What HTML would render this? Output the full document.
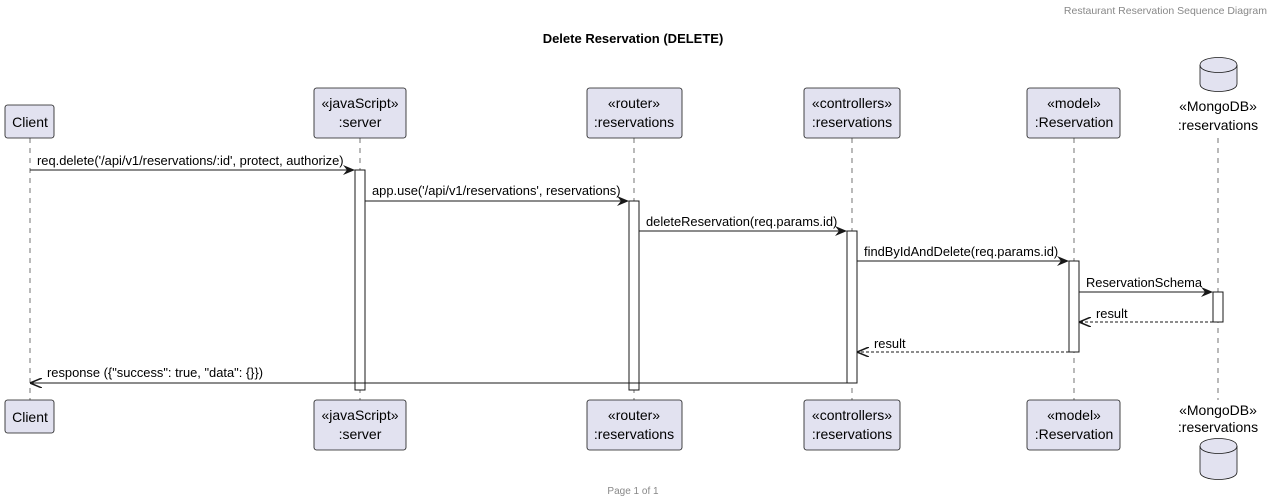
<!DOCTYPE html>
<html><head><meta charset="utf-8"><style>
html,body{margin:0;padding:0;background:#fff;}
svg{display:block;font-family:"Liberation Sans",sans-serif;}
</style></head><body>
<svg width="1273" height="502" viewBox="0 0 1273 502" xmlns="http://www.w3.org/2000/svg">
<defs>
<marker id="ah" viewBox="0 0 12 10" refX="11" refY="5" markerWidth="12" markerHeight="10" markerUnits="userSpaceOnUse" orient="auto">
<path d="M0,0 L12,5 L0,10 L4,5 Z" fill="#181818"/>
</marker>
<marker id="oh" viewBox="0 0 12 10" refX="11" refY="5" markerWidth="12" markerHeight="10" markerUnits="userSpaceOnUse" orient="auto">
<path d="M0,0 L12,5 L0,10" fill="none" stroke="#181818" stroke-width="1.5"/>
</marker>
</defs>
<text x="1267" y="14" font-size="10.5" fill="#888" text-anchor="end">Restaurant Reservation Sequence Diagram</text>
<text x="633" y="43" font-size="13" font-weight="bold" text-anchor="middle" fill="#000">Delete Reservation (DELETE)</text>
<text x="633" y="494" font-size="10" fill="#888" text-anchor="middle">Page 1 of 1</text>

<g stroke="#181818" stroke-width="0.6" stroke-dasharray="5,5">
<line x1="30" y1="138" x2="30" y2="400"/>
<line x1="360" y1="138" x2="360" y2="400"/>
<line x1="634" y1="138" x2="634" y2="400"/>
<line x1="852" y1="138" x2="852" y2="400"/>
<line x1="1074" y1="138" x2="1074" y2="400"/>
<line x1="1218" y1="138" x2="1218" y2="400"/>
</g>

<g fill="#E2E2F0" stroke="#181818" stroke-width="0.8">
<rect x="5" y="105" width="49" height="33" rx="2.5"/>
<rect x="314" y="88" width="92" height="50" rx="2.5"/>
<rect x="587" y="88" width="95" height="50" rx="2.5"/>
<rect x="804" y="88" width="96" height="50" rx="2.5"/>
<rect x="1027" y="88" width="93" height="50" rx="2.5"/>
<rect x="5" y="400" width="49" height="33" rx="2.5"/>
<rect x="314" y="400" width="92" height="50" rx="2.5"/>
<rect x="587" y="400" width="95" height="50" rx="2.5"/>
<rect x="804" y="400" width="96" height="50" rx="2.5"/>
<rect x="1027" y="400" width="93" height="50" rx="2.5"/>
<path d="M1200,65 C1200,55 1237,55 1237,65 L1237,84 C1237,94 1200,94 1200,84 Z"/>
<path d="M1200,65 C1200,75 1237,75 1237,65" fill="none"/>
<path d="M1200,446 C1200,436 1237,436 1237,446 L1237,472 C1237,482 1200,482 1200,472 Z"/>
<path d="M1200,446 C1200,456 1237,456 1237,446" fill="none"/>
</g>

<g font-size="14" fill="#000" text-anchor="middle">
<text x="30" y="127">Client</text>
<text x="360" y="108">«javaScript»</text><text x="360" y="127">:server</text>
<text x="634" y="108">«router»</text><text x="634" y="127">:reservations</text>
<text x="852" y="108">«controllers»</text><text x="852" y="127">:reservations</text>
<text x="1074" y="108">«model»</text><text x="1074" y="127">:Reservation</text>
<text x="1218" y="111">«MongoDB»</text><text x="1218" y="130">:reservations</text>
<text x="30" y="422">Client</text>
<text x="360" y="420">«javaScript»</text><text x="360" y="439">:server</text>
<text x="634" y="420">«router»</text><text x="634" y="439">:reservations</text>
<text x="852" y="420">«controllers»</text><text x="852" y="439">:reservations</text>
<text x="1074" y="420">«model»</text><text x="1074" y="439">:Reservation</text>
<text x="1218" y="415">«MongoDB»</text><text x="1218" y="432">:reservations</text>
</g>

<g fill="#fff" stroke="#181818" stroke-width="1">
<rect x="355" y="170" width="10" height="220"/>
<rect x="629" y="201" width="10" height="189"/>
<rect x="847" y="231" width="10" height="152"/>
<rect x="1069" y="261" width="10" height="91"/>
<rect x="1213" y="292" width="10" height="30"/>
</g>

<g stroke="#181818" stroke-width="1" fill="none">
<line x1="30" y1="170" x2="354" y2="170" marker-end="url(#ah)"/>
<line x1="365" y1="201" x2="628" y2="201" marker-end="url(#ah)"/>
<line x1="639" y1="231" x2="846" y2="231" marker-end="url(#ah)"/>
<line x1="857" y1="261" x2="1068" y2="261" marker-end="url(#ah)"/>
<line x1="1079" y1="292" x2="1212" y2="292" marker-end="url(#ah)"/>
<line x1="1213" y1="322" x2="1080" y2="322" stroke-dasharray="3,2" marker-end="url(#oh)"/>
<line x1="1069" y1="352" x2="858" y2="352" stroke-dasharray="3,2" marker-end="url(#oh)"/>
<line x1="847" y1="383" x2="31" y2="383" marker-end="url(#oh)"/>
</g>

<g font-size="12.9" fill="#000">
<text x="37" y="165">req.delete('/api/v1/reservations/:id', protect, authorize)</text>
<text x="372" y="195">app.use('/api/v1/reservations', reservations)</text>
<text x="646" y="226">deleteReservation(req.params.id)</text>
<text x="864" y="256">findByIdAndDelete(req.params.id)</text>
<text x="1086" y="287">ReservationSchema</text>
<text x="1096" y="318">result</text>
<text x="874" y="348">result</text>
<text x="47" y="377">response ({"success": true, "data": {}})</text>
</g>
</svg>
</body></html>
